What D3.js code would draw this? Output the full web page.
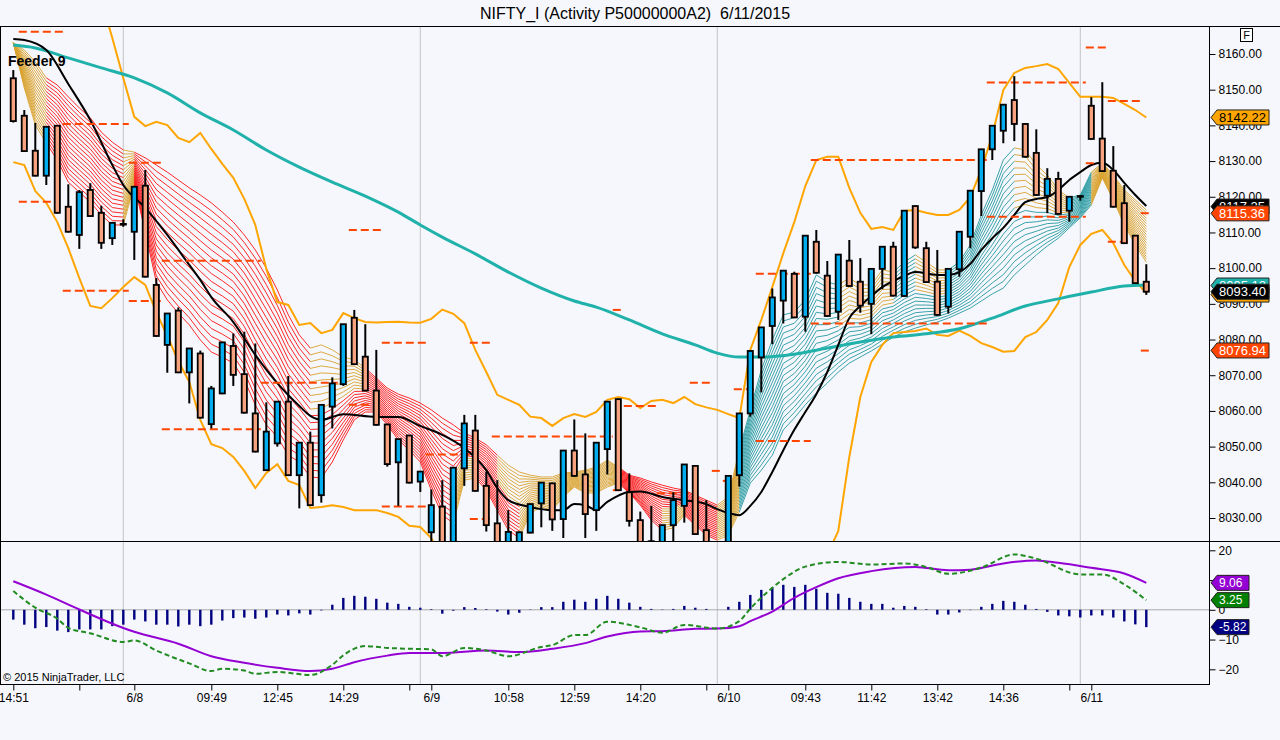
<!DOCTYPE html>
<html>
<head>
<meta charset="utf-8">
<script src="https://cdn.jsdelivr.net/npm/d3@7"></script>
<style>
  body { margin: 0; background: #f6f7fc; }
  svg { display: block; font-family: "Liberation Sans", Arial, sans-serif; }
</style>
</head>
<body>
<svg id="chart" width="1280" height="740"></svg>
<script>
// candles, one per bar
const openP = [
  8153.2, 8142.7, 8132.9, 8125.9, 8139.9, 8117.2, 8109.3, 8121.9, 8115.5, 8108.4,
  8112.4, 8110.2, 8123.1, 8095.3, 8078.5, 8088.1, 8070.8, 8076.1, 8056.3, 8064.9,
  8078.2, 8070.3, 8059.3, 8043.4, 8050.9, 8062.6, 8042.0, 8051.1, 8036.4, 8061.2,
  8067.5, 8086.1, 8075.2, 8065.7, 8056.2, 8045.6, 8053.1, 8040.2, 8026.0, 8033.2,
  8022.0, 8043.9, 8054.5, 8039.0, 8028.5, 8021.0, 8020.0, 8025.9, 8034.1, 8039.7,
  8029.7, 8048.9, 8042.2, 8032.2, 8049.3, 8063.3, 8037.2, 8029.4, 8023.5, 8020.0,
  8028.0, 8033.4, 8044.6, 8026.6, 8022.0, 8020.0, 8042.0, 8059.3, 8075.0, 8083.8,
  8090.9, 8098.4, 8086.4, 8107.4, 8097.9, 8087.8, 8102.1, 8096.2, 8090.0, 8099.8,
  8106.0, 8092.2, 8117.4, 8105.6, 8096.2, 8089.2, 8099.7, 8108.8, 8121.6, 8133.3,
  8138.5, 8147.1, 8140.4, 8132.3, 8120.3, 8125.0, 8116.1, 8120.0, 8145.5, 8136.3,
  8127.3, 8118.2, 8109.1, 8096.2
];
const highP = [
  8155.5, 8144.3, 8140.7, 8139.6, 8140.1, 8123.5, 8121.9, 8123.8, 8117.5, 8112.7,
  8113.7, 8122.8, 8127.5, 8097.2, 8087.3, 8089.0, 8077.5, 8076.9, 8067.0, 8079.2,
  8081.7, 8082.2, 8078.9, 8062.4, 8062.6, 8069.8, 8051.1, 8054.2, 8061.7, 8069.4,
  8084.3, 8088.3, 8084.3, 8077.1, 8056.4, 8052.1, 8053.3, 8043.0, 8038.0, 8040.6,
  8044.1, 8058.9, 8058.9, 8043.0, 8040.6, 8032.2, 8026.2, 8034.0, 8039.9, 8039.9,
  8048.9, 8057.6, 8053.7, 8051.1, 8062.6, 8063.5, 8042.5, 8031.8, 8033.4, 8028.0,
  8037.2, 8045.0, 8044.8, 8035.0, 8023.0, 8041.8, 8059.3, 8076.8, 8083.4, 8094.3,
  8099.3, 8099.0, 8109.1, 8110.7, 8102.0, 8103.8, 8107.9, 8102.8, 8099.8, 8106.0,
  8107.4, 8116.1, 8117.6, 8107.4, 8105.1, 8099.8, 8110.2, 8121.7, 8133.3, 8139.9,
  8145.8, 8153.8, 8140.6, 8138.9, 8128.0, 8127.0, 8120.0, 8120.3, 8147.9, 8152.1,
  8134.2, 8123.3, 8109.3, 8101.1
];
const lowP = [
  8140.8, 8132.6, 8125.7, 8123.3, 8115.3, 8110.0, 8105.4, 8114.4, 8105.4, 8106.5,
  8111.6, 8102.3, 8097.4, 8080.8, 8070.7, 8070.6, 8062.1, 8057.9, 8055.1, 8064.7,
  8067.0, 8059.3, 8048.4, 8043.2, 8050.0, 8041.8, 8032.7, 8033.4, 8034.3, 8055.1,
  8067.0, 8072.9, 8065.5, 8055.9, 8044.4, 8033.4, 8039.7, 8037.3, 8020.0, 8020.5,
  8020.0, 8039.0, 8037.4, 8026.2, 8020.0, 8019.0, 8019.0, 8025.7, 8027.4, 8026.4,
  8024.4, 8041.6, 8024.4, 8026.4, 8042.2, 8037.6, 8027.6, 8021.0, 8019.0, 8019.0,
  8020.0, 8028.7, 8025.3, 8020.0, 8018.0, 8018.0, 8038.8, 8058.4, 8065.2, 8078.7,
  8084.5, 8086.0, 8082.2, 8098.5, 8086.4, 8085.5, 8094.8, 8087.5, 8081.5, 8094.1,
  8092.1, 8092.0, 8105.4, 8095.9, 8086.7, 8087.3, 8097.6, 8105.6, 8114.6, 8130.3,
  8135.0, 8135.6, 8131.0, 8120.3, 8115.4, 8115.0, 8113.0, 8118.9, 8136.0, 8127.0,
  8117.0, 8106.8, 8095.6, 8092.5
];
const closeP = [
  8141.2, 8132.8, 8125.9, 8139.6, 8115.5, 8110.2, 8121.3, 8114.6, 8107.1, 8112.7,
  8112.2, 8122.8, 8097.6, 8081.0, 8087.3, 8070.8, 8077.5, 8058.1, 8066.3, 8079.2,
  8070.1, 8059.5, 8048.6, 8054.2, 8062.6, 8042.0, 8051.1, 8033.6, 8061.7, 8067.7,
  8084.3, 8073.1, 8065.7, 8056.1, 8045.1, 8052.1, 8039.9, 8043.0, 8033.6, 8023.0,
  8044.1, 8056.5, 8037.6, 8028.0, 8022.0, 8026.1, 8026.0, 8033.9, 8039.9, 8029.6,
  8048.9, 8041.8, 8031.1, 8051.1, 8062.6, 8037.8, 8029.2, 8023.0, 8021.0, 8028.0,
  8035.0, 8045.0, 8025.5, 8023.0, 8020.0, 8041.8, 8059.3, 8076.8, 8083.4, 8091.8,
  8099.3, 8086.2, 8109.1, 8098.7, 8086.6, 8103.8, 8095.0, 8089.5, 8099.8, 8106.0,
  8092.3, 8116.1, 8105.8, 8096.1, 8086.9, 8099.8, 8110.2, 8121.7, 8133.3, 8139.9,
  8145.8, 8140.4, 8131.2, 8120.5, 8125.0, 8115.2, 8120.0, 8120.2, 8136.2, 8127.2,
  8117.2, 8107.0, 8095.8, 8093.4
];

// orange envelope, one value per bar
const bandUp = [
  8206.0, 8206.0, 8204.5, 8203.2, 8200.3, 8196.1, 8190.5, 8183.5, 8175.1, 8164.5,
  8153.3, 8142.4, 8139.8, 8141.0, 8140.1, 8136.5, 8135.3, 8137.9, 8133.4, 8129.2,
  8125.3, 8119.4, 8112.1, 8099.8, 8090.5, 8089.7, 8084.1, 8084.6, 8081.8, 8082.7,
  8087.4, 8086.0, 8084.9, 8084.8, 8084.9, 8085.0, 8084.8, 8084.7, 8085.8, 8088.4,
  8087.2, 8084.6, 8077.1, 8070.9, 8064.5, 8063.1, 8061.7, 8058.4, 8058.0, 8055.8,
  8058.0, 8059.1, 8058.3, 8059.7, 8063.1, 8063.9, 8063.3, 8060.8, 8062.8, 8063.1,
  8062.2, 8063.9, 8061.9, 8061.0, 8060.3, 8059.1, 8058.0, 8077.1, 8085.5, 8094.7,
  8104.2, 8112.9, 8123.0, 8130.3, 8131.2, 8131.2, 8122.5, 8115.5, 8111.0, 8111.5,
  8110.7, 8116.0, 8116.3, 8115.5, 8114.9, 8114.9, 8116.3, 8119.9, 8127.5, 8137.3,
  8149.9, 8154.7, 8156.1, 8156.6, 8157.2, 8155.8, 8151.9, 8148.0, 8148.0, 8148.0,
  8147.7, 8146.0, 8144.3, 8142.2
];
const bandLo = [
  8129.7, 8128.9, 8121.6, 8118.3, 8112.9, 8105.6, 8097.2, 8089.4, 8088.8, 8091.6,
  8094.7, 8097.5, 8095.3, 8087.7, 8081.0, 8074.0, 8068.1, 8057.5, 8050.7, 8049.6,
  8047.1, 8043.2, 8038.4, 8042.6, 8045.1, 8040.4, 8039.2, 8032.8, 8033.1, 8033.6,
  8033.1, 8032.2, 8032.2, 8032.2, 8031.4, 8030.3, 8027.8, 8027.5, 8024.4, 8018.2,
  8012.6, 8007.0, 8004.2, 8001.4, 8000.0, 7998.6, 7998.1, 7998.6, 7999.2, 8000.0,
  8001.4, 8002.8, 8003.7, 8004.2, 8004.8, 8005.3, 8005.6, 8005.3, 8004.8, 8004.2,
  8003.7, 8003.1, 8002.8, 8002.8, 8003.7, 8004.8, 8002.8, 8000.0, 7998.6, 7999.2,
  8001.4, 8005.6, 8009.8, 8014.0, 8019.6, 8026.4, 8047.1, 8063.9, 8073.7, 8078.5,
  8081.8, 8082.1, 8082.4, 8083.1, 8081.3, 8081.0, 8082.5, 8081.0, 8079.0, 8077.9,
  8076.6, 8076.8, 8080.7, 8082.1, 8085.5, 8090.2, 8100.3, 8106.5, 8109.6, 8110.7,
  8107.0, 8100.9, 8096.4, 8093.0
];

// ribbon: upper and lower edge per bar, colour runs [last bar, state]
const ribTop = [
  8163.1, 8161.1, 8157.8, 8153.3, 8151.3, 8148.0, 8144.9, 8142.1, 8138.1, 8135.3,
  8133.1, 8132.5, 8130.9, 8128.9, 8126.9, 8124.7, 8122.5, 8120.5, 8118.3, 8115.7,
  8112.9, 8109.3, 8105.1, 8100.0, 8093.9, 8086.9, 8081.3, 8077.6, 8078.5, 8077.1,
  8075.1, 8074.3, 8072.0, 8069.2, 8066.4, 8064.7, 8063.6, 8062.2, 8060.3, 8058.0,
  8056.1, 8053.8, 8052.4, 8050.5, 8047.6, 8044.8, 8042.9, 8042.0, 8041.5, 8041.5,
  8042.6, 8042.9, 8043.4, 8044.3, 8046.2, 8044.3, 8042.0, 8041.2, 8040.1, 8039.2,
  8038.4, 8037.8, 8036.4, 8035.0, 8033.6, 8035.9, 8049.0, 8060.3, 8071.5, 8079.9,
  8086.9, 8087.7, 8091.1, 8098.1, 8096.1, 8095.3, 8097.2, 8095.3, 8095.3, 8099.5,
  8098.9, 8101.7, 8103.7, 8101.7, 8099.5, 8099.5, 8101.7, 8106.5, 8114.9, 8121.9,
  8130.3, 8133.7, 8133.1, 8128.9, 8126.1, 8121.9, 8119.7, 8120.5, 8126.9, 8129.5,
  8126.1, 8121.9, 8119.1, 8116.3
];
const ribBot = [
  8163.1, 8150.5, 8140.1, 8135.1, 8130.3, 8124.1, 8121.3, 8118.5, 8114.9, 8112.1,
  8112.1, 8123.3, 8110.1, 8096.1, 8091.1, 8087.4, 8084.1, 8079.9, 8076.5, 8075.1,
  8073.4, 8068.7, 8061.7, 8056.1, 8052.7, 8047.6, 8045.7, 8041.5, 8041.2, 8045.7,
  8051.9, 8057.5, 8059.7, 8059.7, 8056.1, 8051.9, 8049.0, 8045.7, 8037.8, 8030.8,
  8028.6, 8040.6, 8041.2, 8037.8, 8032.2, 8026.6, 8024.4, 8031.4, 8033.1, 8032.2,
  8035.9, 8038.7, 8037.0, 8037.0, 8038.7, 8039.8, 8037.0, 8033.6, 8029.4, 8026.6,
  8027.2, 8030.8, 8028.0, 8025.2, 8023.8, 8025.2, 8031.7, 8039.8, 8043.4, 8047.6,
  8054.7, 8058.0, 8061.7, 8065.0, 8067.8, 8070.9, 8073.4, 8075.1, 8076.8, 8078.7,
  8080.7, 8082.1, 8083.2, 8084.1, 8084.9, 8086.0, 8087.4, 8088.8, 8090.8, 8092.8,
  8094.4, 8098.1, 8100.9, 8103.7, 8106.2, 8108.4, 8111.3, 8114.1, 8117.7, 8125.3,
  8119.1, 8112.1, 8106.5, 8101.7
];
const ribTopRuns = [[3,'g'],[10,'r'],[11,'g'],[27,'r'],[32,'g'],[44,'r'],[55,'g'],[64,'r'],[66,'g'],
  [75,'t'],[80,'g'],[82,'t'],[85,'g'],[91,'t'],[96,'g'],[98,'t'],[103,'g']];
const ribBotRuns = [[3,'g'],[10,'r'],[11,'g'],[40,'r'],[42,'g'],[46,'r'],[55,'g'],[59,'r'],[61,'g'],
  [64,'r'],[66,'g'],[98,'t'],[103,'g']];

// smooth lines, sampled at bar indexes
const blackIdx = [0,1,3,5,7,9,10,12,14,16,17,18,20,22,24,26,27,28,30,33,35,37,39,41,43,44,45,47,49,50,
  51,52,53,54,56,57,59,61,63,64,65,66,67,68,69,70,71,72,73,74,75,76,77,78,79,80,81,82,84,85,
  86,87,88,89,90,91,92,93,94,95,96,97,98,99,100,101,102,103];
const blackVal = [8164.2,8163.9,8161.1,8151.6,8141.5,8128.9,8123.3,8116.9,8109.3,8100.9,
  8096.7,8091.9,8084.9,8075.7,8067.8,8061.4,8058.6,8057.5,8059.1,8058.3,
  8058.3,8055.8,8053.3,8049.6,8043.4,8038.4,8035.0,8033.1,8032.2,8032.2,
  8033.9,8033.6,8032.2,8034.5,8037.3,8037.4,8035.9,8035.0,8033.9,8032.5,
  8031.4,8030.8,8033.4,8037.3,8042.9,8049.0,8054.7,8059.7,8064.7,8070.9,
  8078.5,8086.0,8089.4,8092.2,8094.7,8096.4,8097.8,8098.9,8098.1,8098.1,
  8098.9,8101.2,8105.1,8108.4,8111.3,8114.9,8118.5,8119.4,8119.9,8121.9,
  8124.7,8126.9,8128.9,8129.5,8127.5,8123.9,8120.5,8117.4];
const tealIdx = [0,2,5,8,11,14,17,20,23,26,29,32,35,37,39,42,45,48,51,53,
  56,59,62,64,66,68,71,74,77,80,83,86,89,92,95,98,101,103];
const tealVal = [8162.5,8161.7,8158.9,8156.1,8153.3,8149.1,8143.5,8138.7,8133.1,8128.3,
  8124.1,8120.2,8115.7,8112.1,8108.7,8104.0,8098.9,8094.4,8090.8,8089.1,
  8085.5,8081.6,8078.5,8076.2,8075.1,8075.1,8075.9,8077.6,8079.3,8080.7,
  8081.6,8083.0,8086.0,8089.4,8091.4,8093.3,8095.0,8095.3];

// dashed level segments (bar index from/to, price)
const lvlFrom = [0.5,4.5,0.5,4.5,10.5,10.5,13.5,13.5,22.5,30.5,30.5,33.5,33.5,37.5,41.5,41.5,43.5,54.5,54.5,
  55.5,58.5,61.5,63.5,64.5,65.5,67.5,67.5,72.5,72.5,88.5,88.5,97.5,97.5,99.5,99.5,102.5,102.5];
const lvlTo = [4.5,10.5,3.5,10.5,13.5,13.5,22.5,22.5,29.5,33.5,32.5,37.5,37.5,41.5,43.5,43.5,54.5,55.5,55.5,
  58.5,61.5,63.5,64.5,65.5,67.5,72.5,72.5,88.5,88.5,97.5,97.5,99.5,98.5,102.5,101.5,103.5,103.5];
const lvlVal = [8166.2,8140.4,8118.6,8093.7,8129.5,8090.8,8102.1,8054.9,8067.9,8110.7,8061.7,8079.1,8033.2,
  8047.8,8079.1,8029.7,8052.8,8088.3,8037.8,8061.4,8036.9,8067.9,8043.2,8040.4,8066.1,8098.4,8051.6,
  8130.3,8084.5,8152.0,8114.4,8161.8,8129.4,8146.8,8107.4,8115.4,8076.9];

// lower panel
const histVal = [
  -3.3,-5.0,-6.2,-5.8,-7.0,-7.5,-6.6,-6.6,-6.6,-5.5,
  -5.0,-3.3,-3.9,-5.0,-5.0,-5.6,-5.0,-5.5,-5.0,-3.6,
  -2.8,-2.6,-3.0,-2.6,-1.6,-1.9,-1.2,-1.6,-0.2,1.7,
  4.0,4.7,4.4,3.7,2.4,2.0,1.0,0.7,0.2,-1.3,
  -0.3,0.9,0.6,0.2,-0.6,-1.6,-1.0,0.1,0.9,0.9,
  2.7,3.4,2.7,3.7,4.7,3.7,2.4,1.0,0.3,0.1,
  0.3,1.3,0.7,0.3,0.0,1.0,2.7,5.0,6.7,7.5,
  8.4,7.7,8.4,7.1,5.7,5.4,4.0,2.7,2.0,2.0,
  0.7,1.3,1.0,0.2,-1.6,-1.6,-0.9,-0.1,1.0,2.0,
  3.0,2.7,1.7,0.3,-0.7,-1.9,-2.2,-2.6,-1.9,-1.9,
  -2.6,-3.9,-4.9,-5.82
];
const purpIdx = [0,3,6,10,11,15,18,21,24,27,29,31,34,36,39,43,46,49,52,54,
  57,59,62,64,66,67,69,71,73,75,78,82,85,87,90,93,95,98,101,103];
const purpVal = [9.6,5.1,0.1,-6.1,-7.4,-11.4,-15.6,-17.8,-19.5,-20.6,
  -19.8,-17.6,-15.4,-14.5,-14.5,-13.7,-14.2,-13.1,-11.2,-9.0,
  -7.3,-7.2,-6.4,-6.3,-5.5,-3.8,-0.6,4.0,7.6,10.6,
  13.0,14.4,13.3,13.5,15.6,16.6,15.8,14.1,12.2,9.06];
const greenIdx = [0,2,4,5,7,10,11,13,16,18,19,21,22,24,27,29,30,32,34,36,
  38,39,41,43,45,48,49,51,52,54,57,59,61,64,66,67,69,70,72,75,
  78,81,83,85,88,91,93,97,99,101,103];
const greenVal = [6.3,0.7,-3.0,-6.1,-7.9,-10.8,-10.3,-13.7,-18.0,-20.6,
  -19.8,-20.4,-21.5,-20.9,-21.9,-18.5,-15.3,-12.2,-12.8,-13.1,
  -13.3,-15.6,-12.8,-13.7,-15.6,-12.5,-11.9,-8.5,-8.5,-4.0,
  -5.9,-7.7,-5.1,-6.3,-3.8,0.4,7.4,10.3,14.5,16.1,
  15.2,15.6,14.4,12.1,14.2,18.6,17.2,11.9,11.9,8.5,3.25];

// axis and flag texts
const daySep = [10, 37, 64, 97];
const xTickIdx = [0,6,11,18,24,30,36,38,45,51,57,63,65,72,78,84,90,96,98];
const xTickLab = ['14:51','','6/8','09:49','12:45','14:29','','6/9','10:58','12:59','14:20','','6/10',
  '09:43','11:42','13:42','14:36','','6/11'];
const flagVals = [8142.22, 8117.25, 8115.36, 8092.60, 8095.13, 8093.40, 8076.94];
const lowFlagVals = [9.06, 3.25, -5.82];

const flagFill = ['#ffa500','#000000','#ff4500','#ffa500','#20b2aa','#000000','#ff4500'];
const flagText = ['#000','#fff','#fff','#000','#fff','#fff','#fff'];
const lowFlagFill = ['#9400d3','#008000','#000080'];

const svg = d3.select('#chart');
svg.append('rect').attr('width', 1280).attr('height', 740).attr('fill', '#f6f7fc');

const x = d3.scaleLinear().domain([0, 103]).range([13.3, 1146.3]);
const y = d3.scaleLinear().domain([8030, 8160]).range([518, 54]);
const y2 = d3.scaleLinear().domain([-20, 20]).range([669.3, 550.3]);

const defs = svg.append('defs');
defs.append('clipPath').attr('id', 'clipMain')
  .append('rect').attr('x', 1).attr('y', 27).attr('width', 1208).attr('height', 514);
defs.append('clipPath').attr('id', 'clipLow')
  .append('rect').attr('x', 1).attr('y', 542).attr('width', 1208).attr('height', 142);

// day separators
svg.append('g').selectAll('line').data(daySep).join('line')
  .attr('x1', d => x(d)).attr('x2', d => x(d))
  .attr('y1', 27).attr('y2', 684)
  .attr('stroke', '#c4c4c4').attr('stroke-width', 1);

const gm = svg.append('g').attr('clip-path', 'url(#clipMain)');

// ribbon
const runCodes = runs => {
  const out = [];
  let s = 0;
  runs.forEach(([e, c]) => { for (let i = s; i <= e; i++) out[i] = c; s = e + 1; });
  return out;
};
const topCode = runCodes(ribTopRuns), botCode = runCodes(ribBotRuns);
const ribColor = { r: '#ff1010', g: '#d9a22c', t: '#24999f' };
const nLines = 20;
const segs = [];
for (let k = 0; k < nLines; k++) {
  const f = k / (nLines - 1);
  for (let i = 1; i < ribTop.length; i++) {
    segs.push({
      a: i - 1, b: i,
      v0: ribTop[i - 1] + (ribBot[i - 1] - ribTop[i - 1]) * f,
      v1: ribTop[i] + (ribBot[i] - ribTop[i]) * f,
      c: f < 0.5 ? topCode[i] : botCode[i]
    });
  }
}
gm.append('g').selectAll('line').data(segs).join('line')
  .attr('x1', d => x(d.a)).attr('x2', d => x(d.b))
  .attr('y1', d => y(d.v0)).attr('y2', d => y(d.v1))
  .attr('stroke', d => ribColor[d.c]).attr('stroke-width', 0.9);

// envelope
const barLine = d3.line().x((d, i) => x(i)).y(d => y(d));
[bandUp, bandLo].forEach(b => {
  gm.append('path').datum(b).attr('d', barLine)
    .attr('fill', 'none').attr('stroke', '#ffa500').attr('stroke-width', 2);
});

const smooth = d3.line().x(d => x(d[0])).y(d => y(d[1])).curve(d3.curveMonotoneX);
gm.append('path').datum(d3.zip(tealIdx, tealVal)).attr('d', smooth)
  .attr('fill', 'none').attr('stroke', '#20b2aa').attr('stroke-width', 3);
gm.append('path').datum(d3.zip(blackIdx, blackVal)).attr('d', smooth)
  .attr('fill', 'none').attr('stroke', '#000').attr('stroke-width', 2);

// dashed levels
gm.append('g').selectAll('line').data(d3.range(lvlVal.length)).join('line')
  .attr('x1', i => x(lvlFrom[i])).attr('x2', i => x(lvlTo[i]))
  .attr('y1', i => y(lvlVal[i])).attr('y2', i => y(lvlVal[i]))
  .attr('stroke', '#ff4500').attr('stroke-width', 2).attr('stroke-dasharray', '8,4');

// candles
const bars = d3.range(openP.length);
const cg = gm.append('g');
cg.selectAll('line').data(bars).join('line')
  .attr('x1', i => x(i)).attr('x2', i => x(i))
  .attr('y1', i => y(highP[i])).attr('y2', i => y(lowP[i]))
  .attr('stroke', '#000').attr('stroke-width', 2);
cg.selectAll('rect').data(bars).join('rect')
  .attr('x', i => x(i) - 2.6).attr('width', 5.2)
  .attr('y', i => y(Math.max(openP[i], closeP[i])))
  .attr('height', i => Math.max(0.5, Math.abs(y(openP[i]) - y(closeP[i]))))
  .attr('fill', i => closeP[i] >= openP[i] ? '#00aeef' : '#f7a27f')
  .attr('stroke', '#000').attr('stroke-width', 1.8);

svg.append('text').attr('x', 8).attr('y', 66)
  .attr('font-size', 14).attr('font-weight', 'bold').text('Feeder 9');

// lower panel
const gl = svg.append('g').attr('clip-path', 'url(#clipLow)');
gl.append('line').attr('x1', 0).attr('x2', 1209).attr('y1', y2(0)).attr('y2', y2(0))
  .attr('stroke', '#a8a8a8').attr('stroke-width', 1);
gl.append('g').selectAll('line').data(bars).join('line')
  .attr('x1', i => x(i)).attr('x2', i => x(i))
  .attr('y1', y2(0)).attr('y2', i => y2(histVal[i]))
  .attr('stroke', '#000080').attr('stroke-width', 2.4);
const smooth2 = d3.line().x(d => x(d[0])).y(d => y2(d[1])).curve(d3.curveMonotoneX);
gl.append('path').datum(d3.zip(purpIdx, purpVal)).attr('d', smooth2)
  .attr('fill', 'none').attr('stroke', '#9400d3').attr('stroke-width', 2);
gl.append('path').datum(d3.zip(greenIdx, greenVal)).attr('d', smooth2)
  .attr('fill', 'none').attr('stroke', '#228b22').attr('stroke-width', 2)
  .attr('stroke-dasharray', '5,3');

svg.append('text').attr('x', 3).attr('y', 681).attr('font-size', 11).text('\u00a9 2015 NinjaTrader, LLC');

// frame
const frame = svg.append('g').attr('stroke', '#000').attr('stroke-width', 1);
frame.append('line').attr('x1', 0).attr('x2', 1280).attr('y1', 26.5).attr('y2', 26.5);
frame.append('line').attr('x1', 0).attr('x2', 1280).attr('y1', 541.5).attr('y2', 541.5);
frame.append('line').attr('x1', 0).attr('x2', 1209).attr('y1', 684.5).attr('y2', 684.5);
frame.append('line').attr('x1', 0.5).attr('x2', 0.5).attr('y1', 26).attr('y2', 685);
frame.append('line').attr('x1', 1209.5).attr('x2', 1209.5).attr('y1', 26).attr('y2', 685);

// axes
const ay = svg.append('g').attr('transform', 'translate(1209.5,0)')
  .call(d3.axisRight(y).tickValues(d3.range(8030, 8161, 10)).tickFormat(d3.format('.2f')).tickSize(6));
ay.select('.domain').remove();
ay.attr('font-size', 12).attr('font-family', '"Liberation Sans", Arial, sans-serif');

const ay2 = svg.append('g').attr('transform', 'translate(1209.5,0)')
  .call(d3.axisRight(y2).tickValues([-20, -10, 0, 10, 20]).tickFormat(d3.format('d')).tickSize(6));
ay2.select('.domain').remove();
ay2.attr('font-size', 12).attr('font-family', '"Liberation Sans", Arial, sans-serif');

const ax = svg.append('g').attr('transform', 'translate(0,684.5)')
  .call(d3.axisBottom(x).tickValues(xTickIdx).tickFormat((d, i) => xTickLab[i]).tickSize(6));
ax.select('.domain').remove();
ax.attr('font-size', 12).attr('font-family', '"Liberation Sans", Arial, sans-serif');

// value flags
function flag(yc, right, fill, color, label, size) {
  const g = svg.append('g');
  g.append('path')
    .attr('d', `M1211,${yc} L1217,${yc - 7.5} L${right},${yc - 7.5} L${right},${yc + 7.5} L1217,${yc + 7.5} Z`)
    .attr('fill', fill).attr('stroke', '#222').attr('stroke-width', 1);
  g.append('text').attr('x', 1219).attr('y', yc).attr('dy', '0.36em')
    .attr('font-size', size).attr('fill', color).text(label);
}
flagVals.forEach((v, i) => flag(y(v), 1269, flagFill[i], flagText[i], v.toFixed(2), 13));
lowFlagVals.forEach((v, i) => flag(y2(v), 1249, lowFlagFill[i], '#fff', v.toFixed(2), 12));

// title and F box
svg.append('text').attr('x', 635).attr('y', 19).attr('text-anchor', 'middle')
  .attr('font-size', 16).style('white-space', 'pre')
  .text('NIFTY_I (Activity P50000000A2)  6/11/2015');
svg.append('rect').attr('x', 1240.5).attr('y', 28.5).attr('width', 12).attr('height', 13)
  .attr('fill', '#fff').attr('stroke', '#000');
svg.append('text').attr('x', 1246.5).attr('y', 39).attr('text-anchor', 'middle')
  .attr('font-size', 11).text('F');
</script>
</body>
</html>
